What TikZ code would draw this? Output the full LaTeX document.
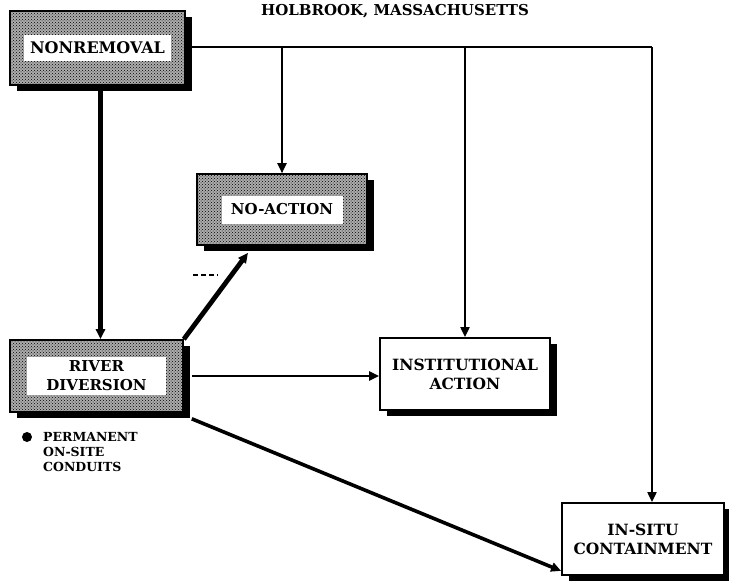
\documentclass[tikz,border=0pt]{standalone}
\usepackage{fontspec}
\setmainfont{DejaVu Serif}
\usetikzlibrary{arrows.meta,patterns,shadows}

\tikzset{
  boxshadow/.style={drop shadow={shadow xshift=7pt, shadow yshift=-6pt, fill=black, opacity=1}},
  shaded box/.style={draw, line width=1.6pt, fill=gray!65,
    postaction={pattern=crosshatch dots, pattern color=black},
    boxshadow, inner sep=0pt},
  plain box/.style={draw, line width=1.8pt, fill=white, boxshadow, inner sep=0pt,
    align=center, font=\bfseries\fontsize{15.5}{19}\selectfont},
  label patch/.style={fill=white, inner sep=0pt, align=center},
  thinline/.style={line width=2pt},
  thickline/.style={line width=4.8pt},
  tip/.style={-{Triangle[length=10pt,width=9pt]}},
}

\begin{document}
\begin{tikzpicture}[x=1pt,y=-1pt]
\useasboundingbox (0,0) rectangle (729,582);

% heading
\node (title) at (395,11) {\bfseries\fontsize{15}{17}\selectfont HOLBROOK, MASSACHUSETTS};

% shaded alternative boxes with white label patches
\node[shaded box, minimum width=175pt, minimum height=74pt] (nonremoval) at (97.5,48) {};
\node[label patch, minimum width=147pt, minimum height=26pt,
      font=\bfseries\fontsize{16}{18}\selectfont] (nonremoval-txt) at (nonremoval) {NONREMOVAL};

\node[shaded box, minimum width=170pt, minimum height=71pt] (noaction) at (282,209.5) {};
\node[label patch, minimum width=121pt, minimum height=28pt,
      font=\bfseries\fontsize{15}{17}\selectfont] (noaction-txt) at (noaction) {NO-ACTION};

\node[shaded box, minimum width=173pt, minimum height=72pt] (river) at (96.5,376) {};
\node[label patch, minimum width=139pt, minimum height=38pt,
      font=\bfseries\fontsize{15}{19}\selectfont] (river-txt) at (river) {RIVER\\DIVERSION};

% plain outcome boxes
\node[plain box, minimum width=170pt, minimum height=72pt] (institutional) at (465,374)
  {INSTITUTIONAL\\ACTION};
\node[plain box, minimum width=162pt, minimum height=72pt] (insitu) at (643,539)
  {IN-SITU\\CONTAINMENT};

% bullet note under the river diversion box
\fill (27,437) circle (5pt);
\node[anchor=north west, align=left, inner sep=0pt,
      font=\bfseries\fontsize{12.5}{15}\selectfont] (note) at (43,432)
  {PERMANENT\\ON-SITE\\CONDUITS};

% small stray marks
\draw[line width=1.2pt, dash pattern=on 5pt off 3pt] (193,275) -- (218,275);

% top distribution line and its branches
\coordinate (tr) at (652,47);
\draw[thinline] (nonremoval.east |- tr) -- (tr);
\draw[thinline, tip] (noaction.north |- tr) -- (noaction.north);
\draw[thinline, tip] (institutional.north |- tr) -- (institutional.north);
\draw[thinline, tip] (tr) -- (tr |- insitu.north);

% thick links
\draw[thickline, tip] ([xshift=3pt]nonremoval.south) -- ([xshift=3pt]nonremoval.south |- river.north);
\draw[thickline, tip] (river.north east) -- ([xshift=-34pt,yshift=-7pt]noaction.south);
\draw[line width=2.6pt, tip] ([xshift=8pt]river.east) -- (river.east -| institutional.west);
\draw[line width=3.6pt, tip] ([xshift=8pt,yshift=-6pt]river.south east) -- ([yshift=5pt]insitu.south west);
\end{tikzpicture}
\end{document}
